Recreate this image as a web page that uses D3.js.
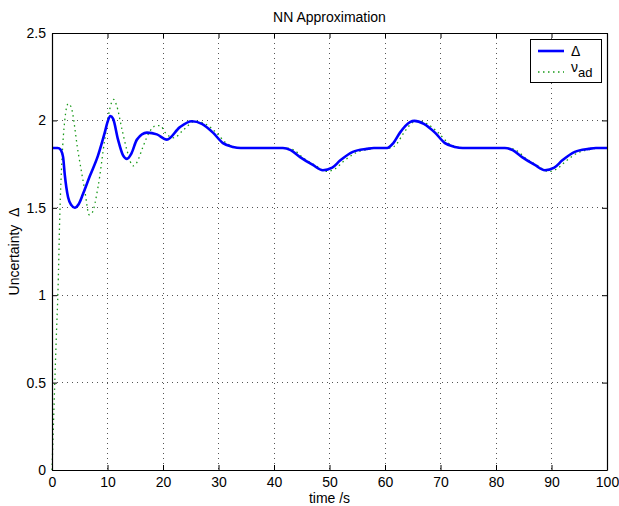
<!DOCTYPE html>
<html><head><meta charset="utf-8">
<script src="https://cdn.jsdelivr.net/npm/d3@7"></script>
<style>
body{margin:0;background:#fff;}
text{font-family:"Liberation Sans",Arial,Helvetica,sans-serif;}
</style></head>
<body><svg id="c" width="619" height="506"></svg>
<script>
// ---- data ----
const deltaT = [0,1,1.3,1.6,2.0,2.3,2.9,3.5,4.1,4.8,5.6,6.8,8.3,9.5,10.0,10.5,11.0,11.9,12.8,13.5,14.3,15.3,17.1,18.9,20.7,23,25.2,27,29,30.8,32.6,34,41.6,43,44.7,47,48.8,50.5,51.9,54.2,56.7,58,60.4,61.5,62.7,64.5,65.3,67,69,70.8,72.6,74,81.6,83,84.7,87,88.8,90.5,91.9,94.2,96.7,98,100];
const deltaV = [1.842,1.842,1.84,1.83,1.79,1.69,1.56,1.515,1.50,1.52,1.58,1.68,1.80,1.93,1.99,2.025,2.01,1.89,1.80,1.78,1.81,1.89,1.93,1.92,1.89,1.96,1.995,1.98,1.93,1.87,1.848,1.842,1.842,1.83,1.79,1.745,1.715,1.73,1.77,1.82,1.837,1.842,1.842,1.87,1.93,1.99,1.997,1.98,1.93,1.87,1.848,1.842,1.842,1.83,1.79,1.745,1.715,1.73,1.77,1.82,1.837,1.842,1.842];
const nuT = [0,0.25,0.5,0.8,1.1,1.4,1.8,2.3,2.9,3.4,4.7,5.9,6.7,7.2,8.3,9.5,10.3,11.1,11.6,12.6,13.5,14.6,15.3,16.4,17.5,18.8,19.5,20.4,22,23.5,25.8,27.6,29.6,31.4,33.2,34.6,42.2,43.6,45.3,47.6,49.4,51.1,52.5,54.8,57.3,58.6,61,62.1,63.3,65.1,65.9,67.6,69.6,71.4,73.2,74.6,82.2,83.6,85.3,87.6,89.4,91.1,92.5,94.8,97.3,98.6,100];
const nuV = [0,0.25,0.5,0.78,1.05,1.45,1.78,2.0,2.095,2.08,1.82,1.60,1.46,1.47,1.62,1.89,2.05,2.12,2.09,1.95,1.83,1.74,1.76,1.85,1.93,1.97,1.97,1.93,1.90,1.94,1.995,1.98,1.93,1.87,1.846,1.842,1.842,1.83,1.785,1.74,1.708,1.725,1.765,1.815,1.836,1.842,1.842,1.865,1.925,1.99,1.998,1.98,1.93,1.87,1.846,1.842,1.842,1.83,1.785,1.74,1.708,1.725,1.765,1.815,1.836,1.842,1.842];
const xTicks = [0,10,20,30,40,50,60,70,80,90,100];
const yTicks = [0,0.5,1,1.5,2,2.5];
const yTickLabels = ["0","0.5","1","1.5","2","2.5"];
const seriesNames = ["Δ","ν"];

// ---- layout ----
const svg = d3.select("#c");
const L=52, R=607, T=33, B=470;
const x = d3.scaleLinear().domain([0,100]).range([L,R]);
const y = d3.scaleLinear().domain([0,2.5]).range([B,T]);

// grid
const g = svg.append("g");
g.selectAll(".gx").data(xTicks.slice(1,-1)).enter().append("line")
  .attr("x1",d=>x(d)).attr("x2",d=>x(d)).attr("y1",T).attr("y2",B)
  .attr("stroke","#555").attr("stroke-width",1).attr("stroke-dasharray","1,4").attr("shape-rendering","crispEdges");
g.selectAll(".gy").data(yTicks.slice(1,-1)).enter().append("line")
  .attr("y1",d=>y(d)).attr("y2",d=>y(d)).attr("x1",L).attr("x2",R)
  .attr("stroke","#555").attr("stroke-width",1).attr("stroke-dasharray","1,4").attr("shape-rendering","crispEdges");

// lines
const line = (xs,ys)=> d3.line().curve(d3.curveMonotoneX).x((d,i)=>x(xs[i])).y((d,i)=>y(ys[i]))(xs);
svg.append("path").attr("d",line(nuT,nuV)).attr("fill","none")
  .attr("stroke","#1a9a1a").attr("stroke-width",1.3).attr("stroke-dasharray","1.5,3.5");
svg.append("path").attr("d",line(deltaT,deltaV)).attr("fill","none")
  .attr("stroke","#0000ff").attr("stroke-width",2.6).attr("stroke-linejoin","round");

// axes
const fs = 14;
const ax = svg.append("g").attr("transform",`translate(0,${B})`)
  .call(d3.axisBottom(x).tickValues(xTicks).tickSizeInner(-5).tickSizeOuter(0).tickPadding(7));
const ay = svg.append("g").attr("transform",`translate(${L},0)`)
  .call(d3.axisLeft(y).tickValues(yTicks).tickFormat((d,i)=>yTickLabels[i]).tickSizeInner(-5).tickSizeOuter(0).tickPadding(6));
const axT = svg.append("g").attr("transform",`translate(0,${T})`)
  .call(d3.axisTop(x).tickValues(xTicks).tickSizeInner(-5).tickSizeOuter(0).tickFormat(""));
const ayR = svg.append("g").attr("transform",`translate(${R},0)`)
  .call(d3.axisRight(y).tickValues(yTicks).tickSizeInner(-5).tickSizeOuter(0).tickFormat(""));
[ax,ay,axT,ayR].forEach(a=>{
  a.selectAll("path").attr("stroke","#000").attr("stroke-width",1.2);
  a.selectAll("line").attr("stroke","#000");
  a.selectAll("text").attr("font-size",fs).attr("fill","#000").style("font-family",'"Liberation Sans",Arial,sans-serif');
});

// titles
svg.append("text").attr("x",(L+R)/2).attr("y",22).attr("text-anchor","middle").attr("font-size",14).text("NN Approximation");
svg.append("text").attr("x",(L+R)/2).attr("y",503).attr("text-anchor","middle").attr("font-size",14).text("time /s");
svg.append("text").attr("transform",`translate(19,${(T+B)/2}) rotate(-90)`).attr("text-anchor","middle")
  .attr("font-size",14).style("white-space","pre").text("Uncertainty  Δ");

// legend
const lg = svg.append("g");
lg.append("rect").attr("x",530.5).attr("y",39.5).attr("width",71).attr("height",43).attr("fill","#fff").attr("stroke","#000").attr("stroke-width",1);
lg.append("line").attr("x1",538).attr("x2",564).attr("y1",51).attr("y2",51).attr("stroke","#0000ff").attr("stroke-width",2.6);
lg.append("line").attr("x1",538).attr("x2",564).attr("y1",72).attr("y2",72).attr("stroke","#1a9a1a").attr("stroke-width",1.3).attr("stroke-dasharray","1.5,3.5");
lg.append("text").attr("x",571).attr("y",56).attr("font-size",14).text(seriesNames[0]);
const t2 = lg.append("text").attr("x",571).attr("y",72).attr("font-size",14).text(seriesNames[1]);
t2.append("tspan").attr("dy",5).attr("font-size",13).text("ad");
</script></body></html>
